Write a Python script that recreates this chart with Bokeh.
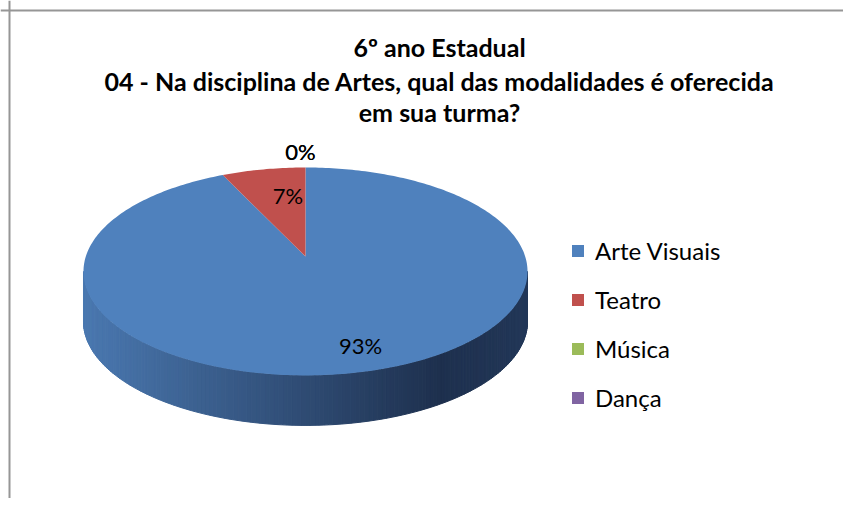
import numpy as np
from bokeh.plotting import figure
from bokeh.models import Range1d, Span, Legend, LegendItem
from bokeh.core.properties import value
from bokeh.embed import file_html
from bokeh.resources import INLINE

# ---- data ----
title_lines = ["6º ano Estadual",
               "04 - Na disciplina de Artes, qual das modalidades é oferecida",
               "em sua turma?"]
categories = ["Arte Visuais", "Teatro", "Música", "Dança"]
percents = [93, 7, 0, 0]
colors = ["#4F81BD", "#C0504D", "#9BBB59", "#8064A2"]

FONT = "Lato"
W, H = 843, 498
p = figure(width=W, height=H, x_range=Range1d(0, W), y_range=Range1d(0, H),
           x_axis_type=None, y_axis_type=None, output_backend="svg",
           toolbar_location=None, min_border=0)
p.grid.visible = False
p.outline_line_color = None
p.background_fill_color = "white"

# chart area border (top & left visible in the reference)
p.add_layout(Span(location=9, dimension="height", line_color="#969696", line_width=2))
p.add_layout(Span(location=488, dimension="width", line_color="#969696", line_width=2))

# ---- 3D pie geometry (perspective projected circle) ----
cx, cy = 305.0, 242.0
A, B, k = 219.7, 101.8, 0.144
depth = 50.0

def proj(theta, r=1.0):
    u = r * np.sin(theta)
    v = r * np.cos(theta)
    w = 1.0 + k * v
    return cx + A * u / w, cy + B * v / w

# side wall as gradient strips (front half)
th0 = np.arccos(-k)
ths = np.linspace(th0, 2 * np.pi - th0, 161)
xs_side, ys_side, cols_side = [], [], []
xmin, xmax = proj(2 * np.pi - th0)[0], proj(th0)[0]
c_light = np.array([0x4A, 0x78, 0xB0])
c_dark = np.array([0x1E, 0x30, 0x4E])
c_edge = np.array([0x22, 0x37, 0x58])
for a0, a1 in zip(ths[:-1], ths[1:]):
    x0, y0 = proj(a0)
    x1, y1 = proj(a1)
    xs_side.append([x0, x1, x1, x0])
    ys_side.append([y0, y1, y1 - depth, y0 - depth])
    t = ((x0 + x1) / 2 - xmin) / (xmax - xmin)
    if t < 0.8:
        c = c_light + (c_dark - c_light) * (t / 0.8)
    else:
        c = c_dark + (c_edge - c_dark) * ((t - 0.8) / 0.2)
    cols_side.append("#%02x%02x%02x" % tuple(int(round(v)) for v in c))
p.patches(xs_side, ys_side, fill_color=cols_side, line_color=cols_side, line_width=1)

# top surface slices
total = float(sum(percents))
starts = np.cumsum([0] + percents[:-1]) / total * 2 * np.pi
ends = np.cumsum(percents) / total * 2 * np.pi
renderers = []
for cat, s, e, col in zip(categories, starts, ends, colors):
    n = max(2, int((e - s) / (2 * np.pi) * 360) + 2)
    ang = np.linspace(s, e, n)
    px, py = proj(ang)
    x = [cx] + list(px)
    y = [cy] + list(py)
    r = p.patch(x, y, fill_color=col, line_color=None)
    renderers.append(r)

# data labels (inside for non-zero slices, outside for empty ones)
lab_x, lab_y, lab_t, lab_dx = [], [], [], []
for pct, s, e in zip(percents, starts, ends):
    mid = (s + e) / 2
    rr = 0.75 if pct > 0 else 1.3
    lx, ly = proj(mid, rr)
    lab_x.append(lx)
    lab_y.append(ly)
    lab_t.append(f"{pct}%")
    lab_dx.append(15 if pct > 0 else -5)
p.text(x=lab_x, y=lab_y, text=lab_t, x_offset=lab_dx, y_offset=6,
       text_align="center", text_baseline="middle",
       text_font=value(FONT), text_font_size="22px", text_color="black")

# title
p.text([439] * 3, [452, 418, 387], text=title_lines, text_align="center",
       text_baseline="middle", text_font=value(FONT), text_font_size="25px",
       text_font_style="bold", text_color="black")

# legend
legend = Legend(items=[LegendItem(label=c, renderers=[r]) for c, r in zip(categories, renderers)],
                location=(570, 86), glyph_width=15, glyph_height=15, label_standoff=10,
                spacing=20, padding=0, margin=0, border_line_color=None,
                background_fill_alpha=0, label_text_font=FONT, label_text_font_size="24px",
                label_text_color="black")
p.add_layout(legend)

open("out.html", "w").write(file_html(p, INLINE))
